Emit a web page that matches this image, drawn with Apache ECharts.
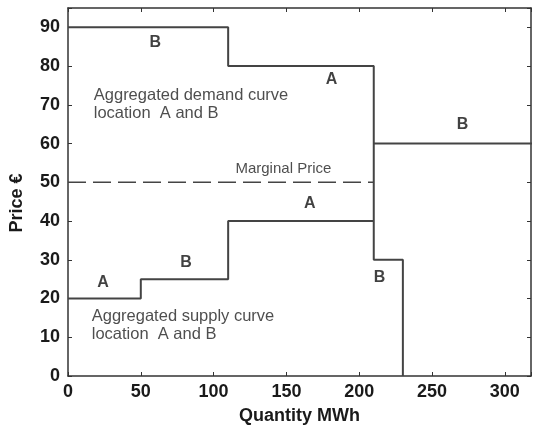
<!DOCTYPE html>
<html>
<head>
<meta charset="utf-8">
<script src="https://cdn.jsdelivr.net/npm/echarts@6/dist/echarts.min.js"></script>
<style>html,body{margin:0;padding:0;background:#fff}#c{width:534px;height:430px}</style>
</head>
<body>
<div id="c"></div>
<script>
// Data
var demandCurve = [[0,90],[110,90],[110,80],[210,80],[210,60],[320,60]];
var supplyCurve = [[0,20],[50,20],[50,25],[110,25],[110,40],[210,40],[210,60],[210,30],[230,30],[230,0]];
var marginalPrice = 50;
var marginalFromTo = [0, 210];
var letterLabels = ['B','A','B','A','B','A','B'];
var letterX = [60, 181, 271, 166, 81, 24, 214];
var letterY = [86, 76.5, 65, 44.4, 29.3, 24, 25.5];
var noteTexts = ['Aggregated demand curve\nlocation  A and B', 'Marginal Price', 'Aggregated supply curve\nlocation  A and B'];
var noteX = [17.7, 115, 16.3];
var noteY = [70.1, 53.6, 13.0];
var xTicks = [0, 50, 100, 150, 200, 250, 300];
var yTicks = [0, 10, 20, 30, 40, 50, 60, 70, 80, 90];

var chart = echarts.init(document.getElementById('c'));
var axisColor = '#333';
var lineColor = '#444';
var font = 'Liberation Sans, Arial, sans-serif';

var letterData = letterLabels.map(function(l, i){ return {name: l, value: [letterX[i], letterY[i]]}; });
var noteData = noteTexts.map(function(t, i){ return {name: t, value: [noteX[i], noteY[i]]}; });
var noteSizes = [16.5, 15, 16.5];
noteData.forEach(function(d, i){ d.label = {fontSize: noteSizes[i]}; });

function axisBase() {
  return {
    axisLine: {show: true, onZero: false, lineStyle: {color: axisColor, width: 1.5}},
    axisTick: {show: true, inside: true, length: 4, lineStyle: {color: axisColor}},
    splitLine: {show: false}
  };
}

chart.setOption({
  animation: false,
  grid: {left: 66, right: 1, top: 8, bottom: 50},
  xAxis: [Object.assign(axisBase(), {
    type: 'value', min: 0, max: 318, interval: 50,
    name: 'Quantity MWh', nameLocation: 'middle', nameGap: 31,
    nameTextStyle: {fontFamily: font, fontWeight: 'bold', fontSize: 18, color: '#1a1a1a'},
    axisLabel: {fontFamily: font, fontWeight: 'bold', fontSize: 18, color: '#1a1a1a', margin: 7,
      formatter: function(v){ return xTicks.indexOf(v) >= 0 ? String(v) : ''; }}
  }), Object.assign(axisBase(), {
    type: 'value', position: 'top', min: 0, max: 318, interval: 50,
    axisLabel: {show: false}
  })],
  yAxis: [Object.assign(axisBase(), {
    type: 'value', min: 0, max: 95, interval: 10,
    name: 'Price €', nameLocation: 'middle', nameGap: 42,
    nameTextStyle: {fontFamily: font, fontWeight: 'bold', fontSize: 18, color: '#1a1a1a', padding: [0, 22, 0, 0]},
    axisLabel: {fontFamily: font, fontWeight: 'bold', fontSize: 18, color: '#1a1a1a', margin: 8,
      formatter: function(v){ return yTicks.indexOf(v) >= 0 ? String(v) : ''; }}
  }), Object.assign(axisBase(), {
    type: 'value', position: 'right', min: 0, max: 95, interval: 10,
    axisLabel: {show: false}
  })],
  series: [{
    type: 'line', data: demandCurve, symbol: 'none', clip: true,
    lineStyle: {color: lineColor, width: 2}
  }, {
    type: 'line', data: supplyCurve, symbol: 'none', clip: true,
    lineStyle: {color: lineColor, width: 2}
  }, {
    type: 'line', data: [[marginalFromTo[0], marginalPrice], [marginalFromTo[1], marginalPrice]], symbol: 'none',
    lineStyle: {color: lineColor, width: 1.5, type: [18, 7]}
  }, {
    type: 'scatter', data: letterData, symbolSize: 0,
    label: {show: true, position: 'inside', formatter: '{b}', fontFamily: font, fontWeight: 'bold', fontSize: 16, color: '#111'}
  }, {
    type: 'scatter', data: noteData, symbolSize: 0,
    label: {show: true, position: 'inside', align: 'left', verticalAlign: 'middle', formatter: '{b}', fontFamily: font, fontSize: 15, lineHeight: 18, color: '#222'}
  }]
});
</script>
</body>
</html>
